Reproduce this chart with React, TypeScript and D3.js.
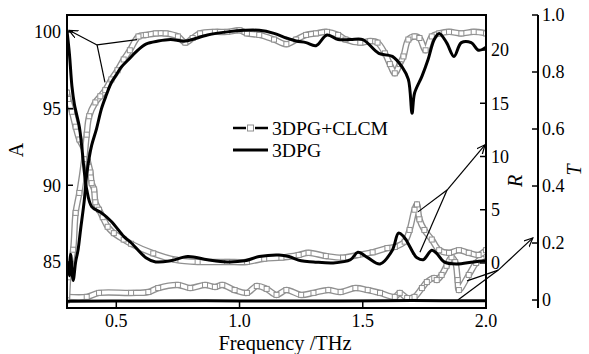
import React from 'react';
import * as d3 from 'd3';

const W = 589;
const H = 354;

// tick values
const xTicks = [0.5, 1.0, 1.5, 2.0];
const aTicks = [85, 90, 95, 100];
const rTicks = [0, 5, 10, 15, 20];
const tTicks = [0, 0.2, 0.4, 0.6, 0.8, 1.0];

// Absorption A (%) — 3DPG
const A_3DPG: [number, number][] = [
  [0.30, 85.0], [0.31, 84.1], [0.315, 85.5], [0.325, 83.8], [0.335, 85.0], [0.345, 85.8],
  [0.355, 87.1], [0.37, 89.0], [0.38, 90.7], [0.39, 91.8], [0.40, 92.6], [0.42, 93.7],
  [0.44, 95.0], [0.46, 95.9], [0.48, 96.7], [0.50, 97.2], [0.52, 97.7], [0.55, 98.2],
  [0.58, 98.7], [0.62, 99.2], [0.67, 99.4], [0.72, 99.5], [0.78, 99.4], [0.87, 99.8],
  [0.95, 100.0], [1.02, 100.1], [1.08, 100.1], [1.14, 99.9], [1.19, 99.6], [1.23, 99.4],
  [1.27, 99.3], [1.31, 99.1], [1.355, 99.8], [1.40, 99.5], [1.45, 99.5], [1.50, 99.5],
  [1.565, 98.6], [1.62, 98.4], [1.66, 97.7], [1.685, 96.9], [1.70, 94.7], [1.71, 96.0],
  [1.74, 97.1], [1.765, 98.2], [1.79, 99.5], [1.81, 99.9], [1.84, 99.3], [1.87, 98.4],
  [1.90, 99.3], [1.94, 99.3], [1.97, 98.8], [2.0, 99.0],
];

// Absorption A (%) — 3DPG+CLCM
const A_CLCM: [number, number][] = [
  [0.30, 82.5], [0.305, 84.0], [0.31, 84.5], [0.325, 85.8], [0.335, 88.2], [0.35, 89.5],
  [0.37, 91.7], [0.38, 93.3], [0.39, 94.5], [0.415, 95.4], [0.435, 95.8], [0.455, 96.2],
  [0.48, 96.9], [0.505, 97.5], [0.53, 98.2], [0.555, 98.8], [0.59, 99.7], [0.62, 99.8],
  [0.66, 99.9], [0.70, 99.9], [0.75, 99.7], [0.78, 99.3], [0.81, 99.6], [0.84, 99.9],
  [0.90, 100.0], [0.95, 100.0], [1.0, 100.1], [1.03, 99.9], [1.08, 99.8], [1.14, 99.5],
  [1.19, 99.2], [1.23, 99.5], [1.27, 99.8], [1.31, 99.9], [1.355, 100.0], [1.40, 99.8],
  [1.43, 99.5], [1.49, 99.3], [1.53, 99.4], [1.56, 99.3], [1.59, 98.6], [1.61, 97.9],
  [1.63, 97.3], [1.65, 97.9], [1.665, 98.4], [1.685, 99.5], [1.71, 99.7], [1.73, 99.6],
  [1.755, 98.8], [1.78, 99.7], [1.81, 99.9], [1.85, 100.0], [1.90, 99.9], [1.95, 100.0],
  [2.0, 99.9],
];

// Reflection R (%) — 3DPG
const R_3DPG: [number, number][] = [
  [0.30, 21.8], [0.31, 19.6], [0.32, 16.6], [0.33, 14.9], [0.35, 12.8], [0.36, 10.9],
  [0.37, 8.6], [0.38, 6.9], [0.40, 5.3], [0.44, 4.7], [0.48, 3.9], [0.53, 2.5],
  [0.56, 1.9], [0.62, 0.5], [0.66, 0.1], [0.72, 0.2], [0.79, 0.6], [0.87, 0.3],
  [0.95, 0.1], [1.02, 0.2], [1.08, 0.6], [1.16, 0.75], [1.20, 0.6], [1.25, 0.2],
  [1.30, 0.1], [1.38, 0.0], [1.45, 0.3], [1.48, 1.0], [1.52, 0.5], [1.57, -0.1],
  [1.62, 1.2], [1.645, 2.8], [1.665, 2.5], [1.68, 2.0], [1.71, 0.75], [1.72, 0.5],
  [1.745, 0.3], [1.78, 1.2], [1.80, 0.9], [1.83, 0.1], [1.88, -0.1], [1.95, 0.1],
  [2.0, 0.2],
];

// Reflection R (%) — 3DPG+CLCM
const R_CLCM: [number, number][] = [
  [0.30, 16.0], [0.305, 15.4], [0.32, 14.2], [0.335, 12.8], [0.35, 11.6], [0.37, 10.7],
  [0.385, 9.5], [0.395, 8.5], [0.40, 7.5], [0.41, 6.9], [0.415, 5.7], [0.43, 5.0],
  [0.445, 4.3], [0.465, 3.4], [0.49, 2.8], [0.53, 2.2], [0.56, 1.8], [0.65, 0.9],
  [0.74, 0.3], [0.83, 0.1], [0.95, 0.1], [1.03, 0.1], [1.10, 0.4], [1.17, 0.5],
  [1.24, 0.75], [1.28, 0.95], [1.35, 0.65], [1.42, 0.5], [1.48, 0.75], [1.54, 1.0],
  [1.60, 1.4], [1.63, 1.5], [1.67, 2.0], [1.69, 3.1], [1.71, 5.0], [1.72, 5.5],
  [1.73, 4.1], [1.75, 3.1], [1.78, 2.2], [1.81, 1.2], [1.85, 0.95], [1.89, 1.2],
  [1.93, 0.95], [1.97, 0.75], [2.0, 1.2],
];

// Transmission T — 3DPG
const T_3DPG: [number, number][] = [
  [0.30, -0.004], [0.60, -0.003], [1.0, -0.003], [1.4, -0.003], [1.7, -0.002], [2.0, -0.003],
];

// Transmission T — 3DPG+CLCM
const T_CLCM: [number, number][] = [
  [0.30, 0.011], [0.38, 0.011], [0.43, 0.025], [0.56, 0.025], [0.63, 0.028], [0.67, 0.042],
  [0.75, 0.053], [0.80, 0.042], [0.86, 0.053], [0.90, 0.046], [0.93, 0.053], [0.98, 0.035],
  [1.03, 0.025], [1.07, 0.049], [1.11, 0.039], [1.15, 0.018], [1.19, 0.035], [1.25, 0.018],
  [1.30, 0.025], [1.36, 0.035], [1.41, 0.028], [1.47, 0.042], [1.52, 0.035], [1.57, 0.025],
  [1.63, 0.011], [1.65, 0.025], [1.68, 0.007], [1.71, 0.011], [1.74, 0.042], [1.76, 0.063],
  [1.79, 0.077], [1.80, 0.070], [1.82, 0.088], [1.84, 0.12], [1.86, 0.15], [1.875, 0.133],
  [1.885, 0.07], [1.89, 0.035], [1.93, 0.088], [1.96, 0.13], [2.0, 0.16],
];

// annotation arrows in data coordinates: junction, tip, branches
const arrowA = { j: [0.422, 99.15], tip: [0.308, 100.1], br: [[0.584, 99.5], [0.454, 96.7]] };
const arrowR = { j: [1.842, 6.85], tip: [1.996, 11.1], br: [[1.724, 4.8], [1.732, 1.0]] };
const arrowT = { j: [2.05, 0.105], tip: [2.19, 0.218], br: [[1.923, 0.067], [1.886, 0.0]] };

const legendLabels = ['3DPG+CLCM', '3DPG'];

const FONT = "'Liberation Serif', 'DejaVu Serif', 'Liberation Sans', sans-serif";

export default function App() {
  const L = 67, Rr = 486, T = 15, B = 308;
  const x = d3.scaleLinear().domain([0.3, 2.0]).range([L, Rr]);
  const yA = d3.scaleLinear().domain([82, 101.1]).range([B, T]);
  const yR = d3.scaleLinear().domain([-4.23, 23.29]).range([B, T]);
  const yT = d3.scaleLinear().domain([-0.028, 1.0]).range([B, T]);
  const tAxisX = 538;

  const mk = (ys: d3.ScaleLinear<number, number>) =>
    d3.line<[number, number]>().x(d => x(d[0])).y(d => ys(d[1])).curve(d3.curveCatmullRom.alpha(0.5));

  const lA = mk(yA), lR = mk(yR), lT = mk(yT);

  const grayTube = (path: string | null, key: string) => (
    <g key={key}>
      <path d={path || ''} fill="none" stroke="#000" strokeWidth={2} strokeDasharray="7,4" />
      <path d={path || ''} fill="none" stroke="#909090" strokeWidth={6.5} strokeLinejoin="round" strokeLinecap="round" />
      <path d={path || ''} fill="none" stroke="#fff" strokeWidth={3.8} strokeLinejoin="round" strokeLinecap="round" />
    </g>
  );

  const squares = (data: [number, number][], ys: d3.ScaleLinear<number, number>, key: string) => (
    <g key={key}>
      {data.map((d, i) => (
        <rect key={i} x={x(d[0]) - 2.5} y={ys(d[1]) - 2.5} width={5} height={5}
          fill="#fff" stroke="#909090" strokeWidth={1} />
      ))}
    </g>
  );

  const arrow = (a: { j: number[]; tip: number[]; br: number[][] }, ys: d3.ScaleLinear<number, number>, key: string) => {
    const jx = x(a.j[0]), jy = ys(a.j[1]);
    return (
      <g key={key} stroke="#000" strokeWidth={1.2} fill="none">
        <line x1={jx} y1={jy} x2={x(a.tip[0])} y2={ys(a.tip[1])} markerEnd="url(#arrHead)" />
        {a.br.map((b, i) => (
          <line key={i} x1={jx} y1={jy} x2={x(b[0])} y2={ys(b[1])} />
        ))}
      </g>
    );
  };

  const tickFs = 18;

  return (
    <svg width={W} height={H} style={{ position: 'absolute', left: 0, top: 0, background: '#fff' }}
      fontFamily={FONT}>
      <defs>
        <clipPath id="plotClip">
          <rect x={L} y={T} width={Rr - L} height={B - T} />
        </clipPath>
        <marker id="arrHead" markerWidth={12} markerHeight={10} refX={9} refY={4}
          orient="auto" markerUnits="userSpaceOnUse">
          <path d="M0,0 L9,4 L0,8" fill="none" stroke="#000" strokeWidth={1.2} />
        </marker>
      </defs>

      <g clipPath="url(#plotClip)">
        {grayTube(lT(T_CLCM), 'tc')}
        {squares(T_CLCM, yT, 'tcs')}
        {grayTube(lR(R_CLCM), 'rc')}
        {squares(R_CLCM, yR, 'rcs')}
        {grayTube(lA(A_CLCM), 'ac')}
        {squares(A_CLCM, yA, 'acs')}

        <path d={lT(T_3DPG) || ''} fill="none" stroke="#000" strokeWidth={3} />
        <path d={lR(R_3DPG) || ''} fill="none" stroke="#000" strokeWidth={3} strokeLinejoin="round" />
        <path d={lA(A_3DPG) || ''} fill="none" stroke="#000" strokeWidth={3} strokeLinejoin="round" />
      </g>

      {arrow(arrowA, yA, 'aa')}
      {arrow(arrowR, yR, 'ar')}
      {arrow(arrowT, yT, 'at')}

      {/* frame */}
      <rect x={L} y={T} width={Rr - L} height={B - T} fill="none" stroke="#000" strokeWidth={2} />

      {/* x ticks */}
      {xTicks.map(t => (
        <g key={'x' + t}>
          <line x1={x(t)} x2={x(t)} y1={B} y2={B - 8} stroke="#000" strokeWidth={1.5} />
          <text x={x(t)} y={327} textAnchor="middle" fontSize={tickFs}>{t.toFixed(1)}</text>
        </g>
      ))}
      <text x={285} y={350} textAnchor="middle" fontSize={20.4}>Frequency /THz</text>

      {/* left A axis */}
      {aTicks.map(t => (
        <g key={'a' + t}>
          <line x1={L} x2={L + 6} y1={yA(t)} y2={yA(t)} stroke="#000" strokeWidth={1.5} />
          <text x={61} y={yA(t)} dy="0.35em" textAnchor="end" fontSize={tickFs}>{t}</text>
        </g>
      ))}
      <text transform={`translate(23,150) rotate(-90)`} textAnchor="middle" fontSize={20}>A</text>

      {/* right R axis */}
      {rTicks.map(t => (
        <g key={'r' + t}>
          <line x1={Rr} x2={Rr - 6} y1={yR(t)} y2={yR(t)} stroke="#000" strokeWidth={1.5} />
          <text x={491} y={yR(t)} dy="0.35em" textAnchor="start" fontSize={tickFs}>{t}</text>
        </g>
      ))}
      <text transform={`translate(522,181) rotate(-90)`} textAnchor="middle" fontSize={20} fontStyle="italic">R</text>

      {/* T axis */}
      <line x1={tAxisX} x2={tAxisX} y1={T} y2={B} stroke="#000" strokeWidth={2} />
      {tTicks.map(t => (
        <g key={'t' + t}>
          <line x1={tAxisX} x2={tAxisX - 6} y1={yT(t)} y2={yT(t)} stroke="#000" strokeWidth={1.5} />
          <text x={542} y={yT(t)} dy="0.35em" textAnchor="start" fontSize={tickFs}>{t === 0 ? '0' : t.toFixed(1)}</text>
        </g>
      ))}
      <text transform={`translate(581,170) rotate(-90)`} textAnchor="middle" fontSize={20} fontStyle="italic">T</text>

      {/* legend */}
      <g>
        <line x1={233} x2={246} y1={128} y2={128} stroke="#000" strokeWidth={2.5} />
        <line x1={255} x2={268} y1={128} y2={128} stroke="#000" strokeWidth={2.5} />
        <rect x={247.5} y={125} width={6} height={6} fill="#fff" stroke="#909090" strokeWidth={1} />
        <text x={272} y={135} fontSize={19.7}>{legendLabels[0]}</text>
        <line x1={233} x2={268} y1={150} y2={150} stroke="#000" strokeWidth={3} />
        <text x={272} y={157} fontSize={19.7}>{legendLabels[1]}</text>
      </g>
    </svg>
  );
}
